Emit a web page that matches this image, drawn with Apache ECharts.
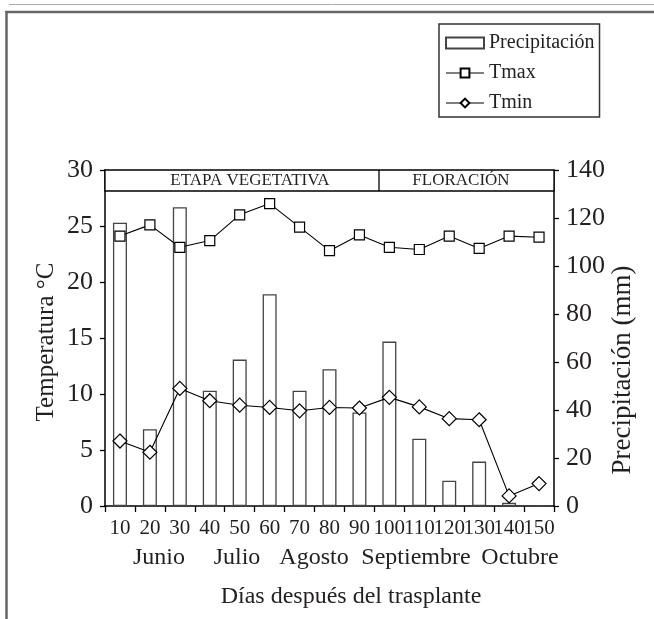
<!DOCTYPE html>
<html>
<head>
<meta charset="utf-8">
<script src="https://cdn.jsdelivr.net/npm/echarts@6/dist/echarts.min.js"></script>
<style>
html,body{margin:0;padding:0;background:#fff;}
#chart{width:654px;height:619px;}
</style>
</head>
<body>
<div id="chart"></div>
<script>
// ---- data ----
const days = ['10','20','30','40','50','60','70','80','90','100','110','120','130','140','150'];
const precipitacion = [118, 32, 124.5, 48, 61, 88.2, 48, 57, 39, 68.5, 28, 10.5, 18.5, 1.4, 0];
const tmax = [24.1, 25.1, 23.1, 23.7, 26.0, 27.0, 24.9, 22.8, 24.2, 23.1, 22.9, 24.1, 23.0, 24.1, 24.0];
const tmin = [5.8, 4.8, 10.5, 9.4, 9.0, 8.8, 8.5, 8.8, 8.75, 9.7, 8.85, 7.8, 7.7, 0.9, 2.0];
const meses = ['Junio', 'Julio', 'Agosto', 'Septiembre', 'Octubre'];
const etapas = ['ETAPA VEGETATIVA', 'FLORACIÓN'];

const FF = 'Liberation Serif';
const TC = '#231f20';
const chart = echarts.init(document.getElementById('chart'));

const mesX = [159, 237, 314, 416, 520];

const graphics = [
  {type:'line', shape:{x1:9, y1:4.5, x2:654, y2:4.5}, style:{stroke:'#aaa', lineWidth:1}},
  {type:'line', shape:{x1:5.5, y1:12, x2:654, y2:12}, style:{stroke:'#666', lineWidth:2.5}},
  {type:'line', shape:{x1:6.5, y1:11, x2:6.5, y2:619}, style:{stroke:'#666', lineWidth:2.5}},
  {type:'rect', z:100, shape:{x:105, y:170, width:449, height:21}, style:{fill:'#fff', stroke:'#000', lineWidth:1.3}},
  {type:'line', z:101, shape:{x1:379, y1:170, x2:379, y2:191}, style:{stroke:'#000', lineWidth:1.3}},
  {type:'text', z:102, x:250, y:181, style:{text:etapas[0], font:'17px "Liberation Serif"', fill:TC, textAlign:'center', textVerticalAlign:'middle'}},
  {type:'text', z:102, x:461, y:181, style:{text:etapas[1], font:'17px "Liberation Serif"', fill:TC, textAlign:'center', textVerticalAlign:'middle'}},
  {type:'text', x:351, y:597, style:{text:'Días después del trasplante', font:'24px "Liberation Serif"', fill:TC, textAlign:'center', textVerticalAlign:'middle'}},
  {type:'text', x:46, y:342, rotation:Math.PI/2, style:{text:'Temperatura °C', font:'25px "Liberation Serif"', fill:TC, textAlign:'center', textVerticalAlign:'middle'}},
  {type:'text', x:623, y:370, rotation:Math.PI/2, style:{text:'Precipitación (mm)', font:'27px "Liberation Serif"', fill:TC, textAlign:'center', textVerticalAlign:'middle'}}
];
meses.forEach((m, i) => {
  graphics.push({type:'text', x:mesX[i], y:558, style:{text:m, font:'24px "Liberation Serif"', fill:TC, textAlign:'center', textVerticalAlign:'middle'}});
});

const axisLine = {show:true, lineStyle:{color:'#000', width:1.5}};
const axisTick = {show:true, length:5, lineStyle:{color:'#000', width:1.3}};

chart.setOption({
  animation:false,
  textStyle:{fontFamily:FF},
  grid:{left:105, right:100, top:170, bottom:113},
  legend:{
    orient:'vertical', left:439, top:24,
    itemWidth:38, itemHeight:11, itemGap:10,
    padding:[9,5,4,6],
    backgroundColor:'#fff',
    borderColor:'#333', borderWidth:1.5,
    lineStyle:{width:1},
    textStyle:{fontSize:20, color:TC, fontFamily:FF},
    data:[{name:'Precipitación', icon:'rect'}, {name:'Tmax'}, {name:'Tmin'}]
  },
  xAxis:{
    type:'category', data:days,
    axisLine:axisLine,
    axisTick:{show:true, length:6, lineStyle:{color:'#000', width:1.3}},
    axisLabel:{interval:0, fontSize:21, color:TC, margin:12, fontFamily:FF}
  },
  yAxis:[
    {type:'value', min:0, max:30, interval:5, position:'left',
     axisLine:axisLine, axisTick:axisTick, splitLine:{show:false},
     axisLabel:{fontSize:26, color:TC, margin:12, padding:[7,0,0,0], fontFamily:FF}},
    {type:'value', min:0, max:140, interval:20, position:'right',
     axisLine:axisLine, axisTick:axisTick, splitLine:{show:false},
     axisLabel:{fontSize:26, color:TC, margin:12, padding:[7,0,0,0], fontFamily:FF}}
  ],
  series:[
    {name:'Precipitación', type:'bar', yAxisIndex:1, data:precipitacion, barWidth:14,
     itemStyle:{color:'#fff', borderColor:'#444', borderWidth:1.3}},
    {name:'Tmax', type:'line', yAxisIndex:0, data:tmax, symbol:'rect', symbolSize:10, z:5,
     lineStyle:{color:'#000', width:1.1}, itemStyle:{color:'#fff', borderColor:'#000', borderWidth:1.2}},
    {name:'Tmin', type:'line', yAxisIndex:0, data:tmin, symbol:'diamond', symbolSize:14, z:5,
     lineStyle:{color:'#000', width:1.1}, itemStyle:{color:'#fff', borderColor:'#000', borderWidth:1.2}}
  ],
  graphic:graphics
});
</script>
</body>
</html>
